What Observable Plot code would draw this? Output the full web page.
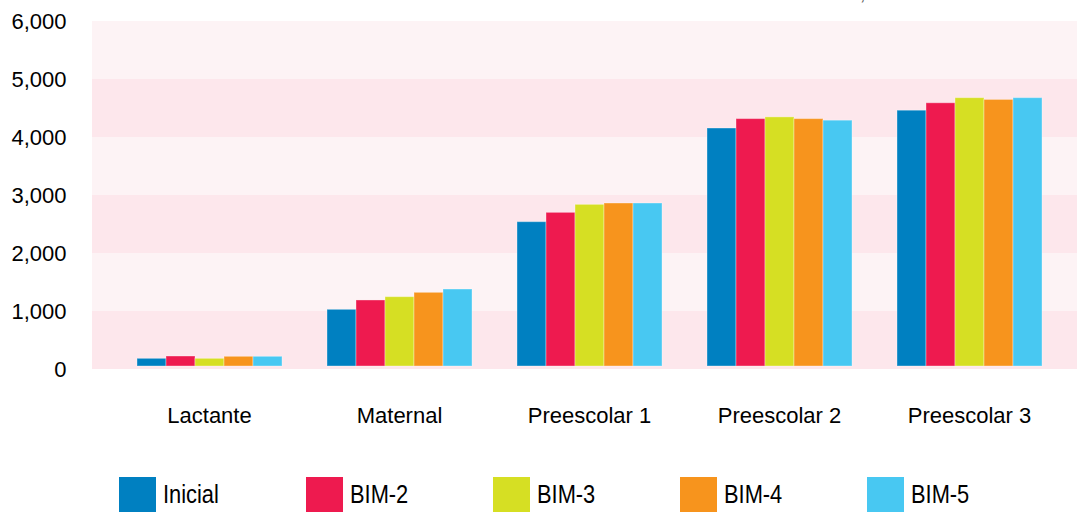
<!DOCTYPE html>
<html>
<head>
<meta charset="utf-8">
<script src="https://cdn.jsdelivr.net/npm/d3@7"></script>
<script src="https://cdn.jsdelivr.net/npm/@observablehq/plot@0.6"></script>
<style>
  body { margin: 0; background: #fff; font-family: "Liberation Sans", Arial, sans-serif; }
  #wrap { position: relative; width: 1077px; height: 512px; overflow: hidden; }
  #bg, #chart { position: absolute; top: 0; left: 0; }
  #source { position: absolute; top: -16px; left: 420px; white-space: nowrap; font-style: italic; font-size: 18px; color: #555; }
  #legend { position: absolute; top: 477px; left: 119px; display: flex; }
  .item { width: 187px; display: flex; align-items: center; }
  .sw { width: 37px; height: 35px; flex: none; }
  .lb { margin-left: 7px; font-family: "Liberation Sans", Arial, sans-serif; font-size: 26px; color: #000; transform: scaleX(0.84); transform-origin: left center; white-space: nowrap; }
</style>
</head>
<body>
<div id="wrap">
  <div id="bg"></div>
  <div id="chart"></div>
  <div id="source">Fuente: Sistema de Control Escolar del Instituto Estatal, Secretaría de Educación Pública, 2016.</div>
  <div id="legend"></div>
</div>
<script>
const categories = ["Lactante", "Maternal", "Preescolar 1", "Preescolar 2", "Preescolar 3"];
const series = ["Inicial", "BIM-2", "BIM-3", "BIM-4", "BIM-5"];
const inicial = [184, 1029, 2540, 4155, 4462];
const bim2 = [224, 1190, 2701, 4317, 4590];
const bim3 = [184, 1247, 2839, 4347, 4678];
const bim4 = [219, 1322, 2862, 4317, 4648];
const bim5 = [219, 1379, 2862, 4290, 4678];
const colors = ["#0080c1", "#ee1a4f", "#d6df23", "#f7941d", "#48c8f2"];
const yTicks = [0, 1000, 2000, 3000, 4000, 5000, 6000];

const seriesValues = [inicial, bim2, bim3, bim4, bim5];
const data = [];
categories.forEach((c, i) => {
  series.forEach((s, j) => {
    data.push({category: c, series: s, value: seriesValues[j][i]});
  });
});
const bands = yTicks.slice(0, -1).map((t, i) => ({y1: t, y2: yTicks[i + 1], dark: i % 2 === 0}));

const common = {
  width: 1077,
  height: 460,
  marginLeft: 92,
  marginRight: 0,
  marginTop: 21,
  marginBottom: 91,
  style: {fontFamily: "'Liberation Sans', Arial, sans-serif", color: "#000", background: "transparent"},
  y: {domain: [0, 6000]}
};

const bg = Plot.plot({
  ...common,
  marks: [
    Plot.rect(bands, {y1: "y1", y2: "y2", fill: d => d.dark ? "#fde7ec" : "#fdf3f5"}),
    Plot.axisY({ticks: yTicks, tickFormat: d3.format(","), tickSize: 0, tickPadding: 26, fontSize: 22, label: null})
  ]
});
document.getElementById("bg").appendChild(bg);

const chart = Plot.plot({
  ...common,
  fx: {domain: categories, paddingInner: 0.222, paddingOuter: 0.2, align: 0.56},
  x: {domain: series, padding: 0, axis: null},
  y: {domain: [0, 6000], axis: null},
  color: {domain: series, range: colors},
  marks: [
    Plot.barY(data, {fx: "category", x: "series", y: "value", fill: "series", insetBottom: 3, stroke: "#fff", strokeOpacity: 0.35, strokeWidth: 1}),
    Plot.axisFx({anchor: "bottom", tickSize: 0, tickPadding: 38, fontSize: 22, label: null})
  ]
});
document.getElementById("chart").appendChild(chart);

const legend = document.getElementById("legend");
series.forEach((s, i) => {
  const it = document.createElement("div");
  it.className = "item";
  it.innerHTML = `<div class="sw" style="background:${colors[i]}"></div><div class="lb">${s}</div>`;
  legend.appendChild(it);
});
</script>
</body>
</html>
